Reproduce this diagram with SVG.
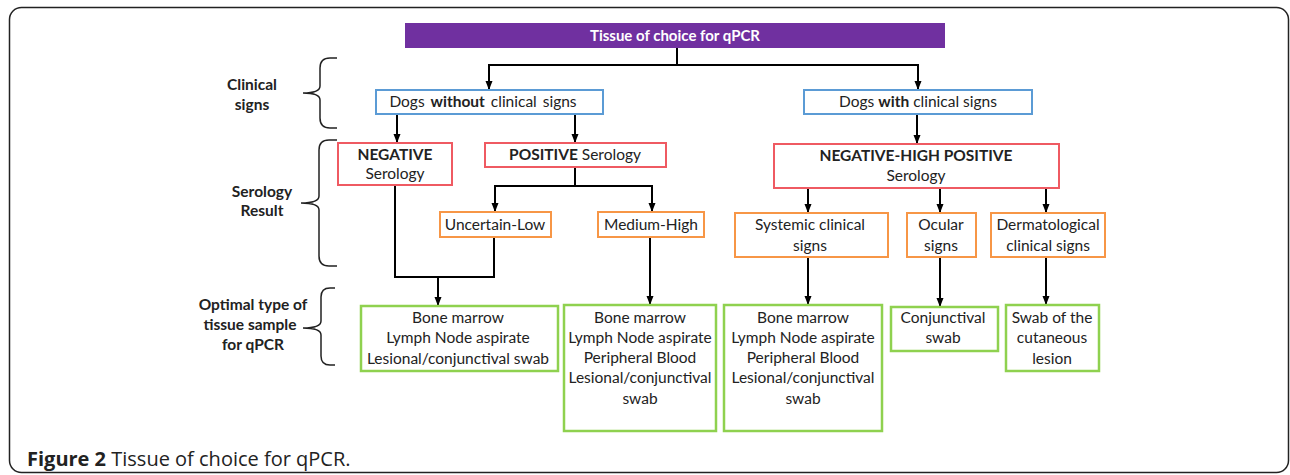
<svg xmlns="http://www.w3.org/2000/svg" width="1290" height="475" viewBox="0 0 1290 475">
<style>
text{font-family:Lato,"Liberation Sans",sans-serif;font-size:15.5px;fill:#222;text-anchor:middle}
.b{font-weight:bold}
.lbl{font-weight:bold;font-size:15.5px}
.blue{fill:#fff;stroke:#5b9bd5;stroke-width:2}
.red{fill:#fff;stroke:#ef5a62;stroke-width:2}
.org{fill:#fff;stroke:#f79646;stroke-width:2}
.grn{fill:#fff;stroke:#8fd14f;stroke-width:2.5}
.ln{fill:none;stroke:#000;stroke-width:2}
.br{fill:none;stroke:#222;stroke-width:1.5}
.cap{font-family:"Open Sans","Liberation Sans",sans-serif;font-size:20px;text-anchor:start;fill:#222}
</style>
<defs>
<marker id="ah" markerUnits="userSpaceOnUse" markerWidth="9" markerHeight="8" refX="9" refY="3.5" orient="auto">
<path d="M0,0 L9,3.5 L0,7 z" fill="#000"/>
</marker>
</defs>
<rect x="9.5" y="7.5" width="1279" height="465" rx="12" fill="#fff" stroke="#222" stroke-width="1.5"/>

<g id="connectors">
<path class="ln" d="M677,48 V65 M488,65 H919"/>
<path class="ln" d="M489,65 V90" marker-end="url(#ah)"/>
<path class="ln" d="M918,65 V90" marker-end="url(#ah)"/>
<path class="ln" d="M397,114 V143" marker-end="url(#ah)"/>
<path class="ln" d="M575,114 V143" marker-end="url(#ah)"/>
<path class="ln" d="M917,114 V144" marker-end="url(#ah)"/>
<path class="ln" d="M575,167 V186 M494,186 H653"/>
<path class="ln" d="M495,186 V212" marker-end="url(#ah)"/>
<path class="ln" d="M652,186 V212" marker-end="url(#ah)"/>
<path class="ln" d="M395,185 V277 H494 V237"/>
<path class="ln" d="M438,277 V306" marker-end="url(#ah)"/>
<path class="ln" d="M650,237 V305" marker-end="url(#ah)"/>
<path class="ln" d="M808,188 V213" marker-end="url(#ah)"/>
<path class="ln" d="M940,188 V213" marker-end="url(#ah)"/>
<path class="ln" d="M1046,188 V213" marker-end="url(#ah)"/>
<path class="ln" d="M808,257 V305" marker-end="url(#ah)"/>
<path class="ln" d="M940,257 V307" marker-end="url(#ah)"/>
<path class="ln" d="M1046,257 V305" marker-end="url(#ah)"/>
</g>

<g id="brace-clinical">
<path class="br" d="M337,58 H330 Q320,58 320,68 V86 Q320,93 303,93 Q320,93 320,100 V118 Q320,128 330,128 H337"/>
<text class="lbl" x="252" y="90">Clinical</text>
<text class="lbl" x="252" y="110">signs</text>
</g>
<g id="brace-serology">
<path class="br" d="M337,140 H329 Q319,140 319,150 V196 Q319,203 301,203 Q319,203 319,210 V256 Q319,266 329,266 H337"/>
<text class="lbl" x="262" y="197">Serology</text>
<text class="lbl" x="262" y="216">Result</text>
</g>
<g id="brace-tissue">
<path class="br" d="M335,288 H330 Q321,288 321,297 V321 Q321,328 303,328 Q321,328 321,335 V356 Q321,365 330,365 H335"/>
<text class="lbl" x="253" y="310">Optimal type of</text>
<text class="lbl" x="250" y="330">tissue sample</text>
<text class="lbl" x="253" y="350">for qPCR</text>
</g>

<g id="title">
<rect x="405" y="23" width="540" height="25" fill="#7030a0"/>
<text x="675" y="41" class="b" style="fill:#fff;font-size:15px">Tissue of choice for qPCR</text>
</g>

<g id="dogs-without">
<rect class="blue" x="376" y="90" width="227" height="24"/>
<text x="483" y="107" style="word-spacing:2px">Dogs <tspan class="b">without</tspan>  clinical signs</text>
</g>
<g id="dogs-with">
<rect class="blue" x="804" y="90" width="228" height="24"/>
<text x="918" y="107">Dogs <tspan class="b">with</tspan> clinical signs</text>
</g>

<g id="negative">
<rect class="red" x="338" y="143" width="114" height="42"/>
<text x="395" y="160" class="b">NEGATIVE</text>
<text x="395" y="179">Serology</text>
</g>
<g id="positive">
<rect class="red" x="485" y="143" width="181" height="24"/>
<text x="575" y="160"><tspan class="b">POSITIVE</tspan> Serology</text>
</g>
<g id="neg-high-pos">
<rect class="red" x="774" y="144" width="285" height="44"/>
<text x="916" y="161" class="b">NEGATIVE-HIGH POSITIVE</text>
<text x="916" y="181">Serology</text>
</g>

<g id="uncertain-low">
<rect class="org" x="440" y="212" width="111" height="25"/>
<text x="495" y="230">Uncertain-Low</text>
</g>
<g id="medium-high">
<rect class="org" x="598" y="212" width="106" height="25"/>
<text x="651" y="230">Medium-High</text>
</g>
<g id="systemic">
<rect class="org" x="735" y="213" width="153" height="44"/>
<text x="810" y="230">Systemic clinical</text>
<text x="810" y="251">signs</text>
</g>
<g id="ocular">
<rect class="org" x="907" y="213" width="69" height="44"/>
<text x="941" y="230">Ocular</text>
<text x="941" y="251">signs</text>
</g>
<g id="dermatological">
<rect class="org" x="991" y="213" width="114" height="44"/>
<text x="1048" y="230">Dermatological</text>
<text x="1048" y="251">clinical signs</text>
</g>

<g id="tissue-1">
<rect class="grn" x="361" y="306" width="197" height="65"/>
<text x="458" y="323">Bone marrow</text>
<text x="458" y="343">Lymph Node aspirate</text>
<text x="458" y="364">Lesional/conjunctival swab</text>
</g>
<g id="tissue-2">
<rect class="grn" x="564" y="305" width="152" height="126"/>
<text x="640" y="323">Bone marrow</text>
<text x="640" y="343">Lymph Node aspirate</text>
<text x="640" y="363">Peripheral Blood</text>
<text x="640" y="383">Lesional/conjunctival</text>
<text x="640" y="404">swab</text>
</g>
<g id="tissue-3">
<rect class="grn" x="724" y="305" width="158" height="126"/>
<text x="803" y="323">Bone marrow</text>
<text x="803" y="343">Lymph Node aspirate</text>
<text x="803" y="363">Peripheral Blood</text>
<text x="803" y="383">Lesional/conjunctival</text>
<text x="803" y="404">swab</text>
</g>
<g id="tissue-4">
<rect class="grn" x="891" y="307" width="107" height="44"/>
<text x="943" y="323">Conjunctival</text>
<text x="943" y="343">swab</text>
</g>
<g id="tissue-5">
<rect class="grn" x="1006" y="305" width="93" height="66"/>
<text x="1052" y="323">Swab of the</text>
<text x="1052" y="343">cutaneous</text>
<text x="1052" y="364">lesion</text>
</g>

<text class="cap" x="27" y="466"><tspan font-weight="bold">Figure 2</tspan> Tissue of choice for qPCR.</text>
</svg>
